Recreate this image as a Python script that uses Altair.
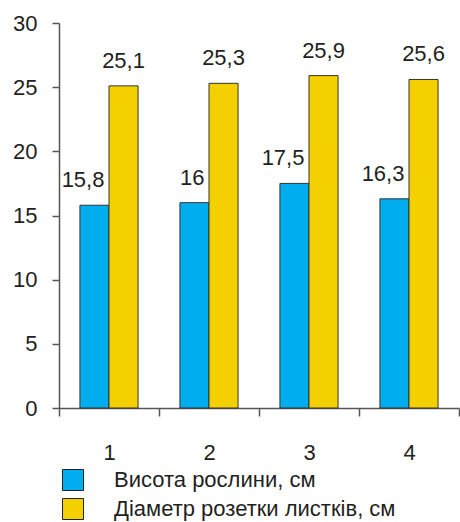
import altair as alt
import pandas as pd

categories = ["1", "2", "3", "4"]
series_names = ["Висота рослини, см", "Діаметр розетки листків, см"]
plant_height = [15.8, 16, 17.5, 16.3]
rosette_diameter = [25.1, 25.3, 25.9, 25.6]
colors = ["#00ADEF", "#F5D000"]
y_ticks = [0, 5, 10, 15, 20, 25, 30]

rows = []
for c, h, d in zip(categories, plant_height, rosette_diameter):
    for s, v in zip(series_names, (h, d)):
        rows.append({"cat": c, "series": s, "value": v,
                     "label": f"{v:g}".replace(".", ",")})
df = pd.DataFrame(rows)

FONT = "Liberation Sans"
TEXT = "#231F20"
AXIS = "#555555"

x = alt.X("cat:N", title=None, sort=categories,
          scale=alt.Scale(paddingInner=0, paddingOuter=0),
          axis=alt.Axis(labelAngle=0, tickBand="extent", tickSize=8,
                        labelPadding=43, labelBaseline="alphabetic",
                        labelFontSize=22, labelFont=FONT, labelColor=TEXT,
                        domainColor=AXIS, tickColor=AXIS, domainWidth=1.5,
                        tickWidth=1.5))
xo = alt.XOffset("series:N", sort=series_names,
                 scale=alt.Scale(paddingOuter=0.72, paddingInner=0))
y = alt.Y("value:Q", title=None,
          scale=alt.Scale(domain=[0, 30], nice=False, zero=True),
          axis=alt.Axis(values=y_ticks, grid=False, tickSize=7, labelPadding=15,
                        labelFontSize=22, labelFont=FONT, labelColor=TEXT,
                        domainColor=AXIS, tickColor=AXIS, domainWidth=1.5,
                        tickWidth=1.5))
color = alt.Color("series:N", sort=series_names,
                  scale=alt.Scale(domain=series_names, range=colors),
                  legend=alt.Legend(orient="none", legendX=3, legendY=446,
                                    direction="vertical", title=None,
                                    symbolType="square", symbolSize=441,
                                    symbolStrokeColor="#222222",
                                    symbolStrokeWidth=1, symbolOpacity=1,
                                    labelFontSize=22, labelFont=FONT,
                                    labelColor=TEXT, labelOffset=30,
                                    labelLimit=0, rowPadding=3, padding=0))

base = alt.Chart(df)
bars = base.mark_bar(stroke="#333333", strokeWidth=1).encode(
    x=x, xOffset=xo, y=y, color=color)
text_blue = base.transform_filter(alt.datum.series == series_names[0]).mark_text(
    align="right", dx=10, dy=-18, baseline="alphabetic", fontSize=22,
    font=FONT, color=TEXT).encode(x=x, xOffset=xo, y=y, text="label:N")
text_yellow = base.transform_filter(alt.datum.series == series_names[1]).mark_text(
    align="center", dy=-18, baseline="alphabetic", fontSize=22,
    font=FONT, color=TEXT).encode(x=x, xOffset=xo, y=y, text="label:N")

chart = alt.layer(bars, text_blue, text_yellow).properties(
    width=400, height=385,
    autosize=alt.AutoSizeParams(type="none"),
    padding={"left": 59, "top": 23, "right": 1, "bottom": 114},
    background="white",
).configure_view(stroke=None)

chart.save("out.html", embed_options={"renderer": "svg", "actions": False})
